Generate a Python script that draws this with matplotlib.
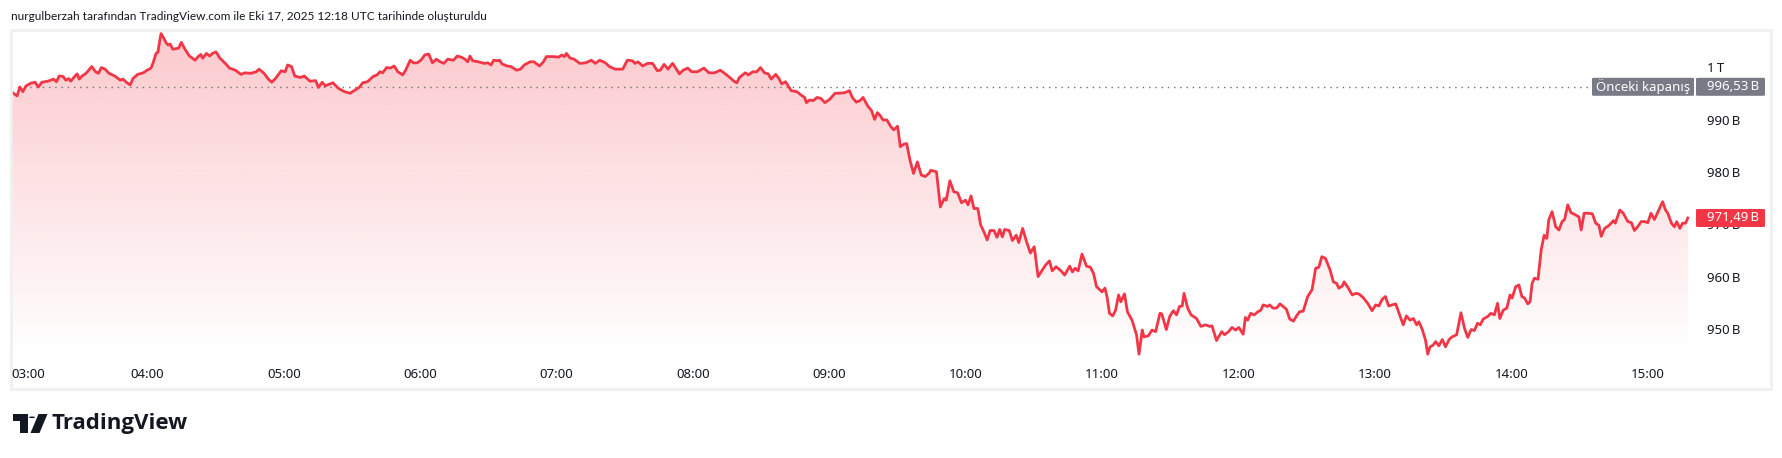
import matplotlib.pyplot as plt
import matplotlib.transforms as mtransforms
from matplotlib.patches import Rectangle, FancyBboxPatch, Polygon, Circle
import numpy as np

# Data: minutes after 03:00 and value (billion)
mins = [0, 2.7, 3.9, 5.2, 6.6, 8.6, 10.6, 12.0, 13.6, 16.2, 18.7, 20.0, 21.2, 22.9, 24.1, 25.4, 26.3, 28.0, 29.1, 30.0,
        31.3, 33.0, 35.5, 37.2, 38.5, 39.7, 41.4, 43.1, 45.6, 48.1, 49.3, 50.7, 52.4, 53.7, 55.7, 58.2, 59.9, 61.6, 62.5, 63.8,
        64.6, 65.5, 66.0, 67.2, 68.4, 69.2, 70.0, 71.2, 72.6, 73.7, 74.9, 76.8, 78.5, 81.0, 82.3, 83.5, 84.3, 86.0, 87.4, 88.6,
        90.2, 91.9, 94.5, 96.1, 98.7, 101.2, 102.9, 105.4, 107.9, 109.1, 111.3, 113.0, 114.7, 116.3, 118.9, 120.6, 121.7, 123.4, 124.8, 127.3,
        129.0, 131.5, 134.0, 135.2, 136.9, 138.2, 139.9, 141.6, 144.1, 146.7, 149.2, 151.7, 153.4, 154.7, 156.8, 159.3, 161.0, 162.3, 163.5, 165.2,
        166.9, 168.5, 170.2, 172.3, 173.6, 175.6, 177.0, 178.6, 180.3, 182.0, 183.7, 185.4, 187.1, 188.8, 190.4, 192.1, 194.6, 196.3, 198.0, 199.7,
        200.9, 201.9, 203.1, 205.6, 208.1, 209.8, 211.2, 212.3, 214.0, 214.9, 216.0, 218.2, 219.9, 222.4, 224.1, 225.8, 228.3, 230.0, 232.5, 234.2,
        235.5, 238.4, 240.9, 242.3, 243.5, 244.3, 246.0, 247.7, 250.2, 252.7, 255.3, 257.0,
        259.0, 261.5, 263.2, 265.7, 269.1, 271.1, 273.3, 274.5, 275.8, 277.9, 280.0, 282.2, 284.3, 285.6, 287.3, 289.0, 291.0, 292.7, 294.0, 295.7,
        297.7, 299.4, 301.9, 304.8, 307.0, 309.5, 312.0, 314.2, 316.2, 318.3, 319.3, 320.4, 323.0, 324.3, 326.3, 328.0, 329.7, 331.4, 333.1, 334.4,
        336.4, 337.8, 339.0, 340.7, 343.2, 345.7, 347.4, 349.1, 349.9, 351.3, 352.9, 354.6, 356.3, 358.0, 360.0, 362.5, 364.2, 366.7, 368.8, 370.1,
        371.8, 373.5, 374.8, 376.8, 378.5, 379.9, 381.1, 382.2, 383.6, 385.3, 386.9, 388.3, 390.0, 391.2, 392.8, 394.0, 395.4, 397.0, 398.7, 400.4,
        402.1, 403.8, 404.6, 407.1, 408.8, 410.5, 411.4, 413.0, 414.7, 416.4, 418.1, 419.8, 421.0, 422.3, 423.6, 425.3, 426.5, 428.2, 429.4, 430.7,
        432.4, 433.7, 434.9, 436.1, 437.1, 439.1, 440.5, 442.2, 443.3, 445.0, 446.7, 448.4, 450.1, 451.8, 453.4, 455.1, 456.8, 458.0, 459.7, 461.9,
        463.5, 465.7, 466.9, 468.1, 469.4, 471.1, 473.1, 474.8, 476.2, 477.5, 479.9, 481.2, 482.1, 483.2, 484.6, 485.9,
        487.2, 488.2, 489.8, 491.1, 493.1, 495.1, 496.2, 497.6, 498.4, 500.3, 501.9, 503.5, 505.4, 506.2, 508.2, 509.7, 511.3, 512.7, 514.0, 515.2,
        516.0, 517.6, 519.1, 521.5, 523.4, 525.4, 527.3, 528.3, 530.3, 531.2, 532.6, 533.8, 535.6, 537.1, 538.7, 540.1, 542.0, 543.0, 544.0, 545.3,
        546.9, 548.5, 549.8, 550.8, 552.8, 553.7, 555.1, 556.7, 558.2, 559.6, 561.0, 562.5, 564.1, 565.5, 566.8, 568.4, 570.4, 572.3, 573.9, 575.3,
        576.6, 578.2, 580.2, 581.7, 583.1, 584.1, 585.6, 586.4, 588.0, 590.0, 591.5, 592.9, 594.8, 596.8, 598.7, 600.3, 601.7, 603.2, 604.6, 606.0,
        607.5, 609.1, 610.5, 612.4, 613.8, 615.4, 616.9, 618.3, 619.3, 620.8, 622.2, 623.2, 624.2, 625.5, 626.7, 628.1, 629.6, 631.0, 632.6, 633.9,
        635.9, 637.8, 639.4, 640.8, 642.3, 643.7, 645.1, 646.3, 647.6, 649.6, 651.0, 652.5, 653.9, 654.9, 656.4, 658.0, 659.4, 660.3, 661.9, 663.3,
        664.6, 665.8, 667.2, 668.2, 669.1, 670.1, 671.7, 673.1, 674.4, 675.6, 676.4, 677.9, 679.5, 680.9, 682.3, 683.4, 684.8, 686.2, 687.7, 689.7,
        690.7, 692.0, 693.6, 695.6, 697.1, 698.5, 699.5, 701.0, 703.0, 704.9, 705.7, 707.7, 709.2, 711.2, 712.8, 714.1, 715.5, 717.1, 718.6, 720.0,
        721.4, 722.9, 724.5, 726.5, 727.8, 728.8, 730.4, 731.7, 732.7, 734.1, 735.3, 736.6, 737.6]
vals = [995.6, 994.8, 996.5, 995.6, 996.7, 997.2, 997.4, 996.5, 997.4, 997.6, 998.0, 997.5, 998.6, 998.5, 997.8, 998.1, 997.6, 998.5, 999.0, 998.0,
        998.6, 999.1, 1000.4, 999.4, 999.1, 1000.2, 999.9, 999.1, 998.6, 997.8, 998.0, 997.4, 996.9, 998.1, 998.9, 999.2, 999.7, 1000.1, 1001.1, 1002.9,
        1003.1, 1005.5, 1006.7, 1005.8, 1004.8, 1004.5, 1004.7, 1003.7, 1003.8, 1003.9, 1005.0, 1003.5, 1002.4, 1001.6, 1002.3, 1002.7, 1002.0, 1002.9, 1002.4, 1002.9,
        1003.2, 1002.0, 1000.9, 1000.1, 999.7, 998.9, 999.2, 999.1, 999.4, 999.9, 999.1, 998.1, 997.4, 998.1, 999.6, 999.4, 1000.7, 1000.4, 998.6, 998.3,
        998.6, 997.6, 997.7, 996.4, 997.4, 996.7, 997.0, 997.3, 996.2, 995.6, 995.3, 996.0, 996.5, 997.3, 997.5, 998.5, 998.8, 999.4, 999.2, 1000.2,
        1000.1, 1000.5, 999.4, 998.8, 999.7, 1001.6, 1001.1, 1001.1, 1001.6, 1002.6, 1002.8, 1001.1, 1001.8, 1001.3, 1001.0, 1001.8, 1001.6, 1002.4, 1002.2, 1001.8,
        1001.3, 1002.4, 1001.5, 1001.3, 1001.0, 1001.1, 1000.7, 1001.6, 1001.5, 1001.6, 1000.9, 1000.5, 1000.4, 999.7, 999.9, 1000.7, 1001.3, 1001.3, 1000.5, 1001.3,
        1002.3, 1002.3, 1002.2, 1002.6, 1002.3, 1002.9, 1002.0, 1001.8, 1001.0, 1001.1, 1001.6, 1001.0,
        1001.6, 1001.1, 1000.4, 999.9, 999.9, 1001.6, 1001.5, 1001.0, 1001.3, 1000.5, 1001.0, 1001.0, 999.6, 999.7, 1000.8, 999.9, 1001.0, 999.9, 999.0, 999.7,
        1000.1, 999.4, 999.4, 1000.1, 999.2, 999.2, 999.7, 999.0, 998.3, 997.5, 997.3, 998.3, 999.2, 998.8, 999.4, 999.4, 1000.2, 999.2, 999.0, 998.0,
        998.9, 998.1, 997.1, 997.5, 995.8, 995.6, 995.0, 994.5, 993.5, 994.0, 993.9, 994.5, 994.3, 993.5, 994.1, 995.3, 995.3, 995.4, 995.8, 994.5,
        993.6, 993.9, 994.5, 992.9, 992.0, 990.3, 991.6, 991.1, 990.2, 990.2, 989.0, 988.3, 989.0, 985.1, 985.6, 985.7, 982.6, 980.0, 982.2, 979.7,
        979.4, 980.0, 980.6, 980.3, 973.6, 975.2, 974.9, 978.6, 976.5, 976.3, 974.4, 974.9, 974.0, 975.7, 973.3, 973.3, 970.2, 968.6, 967.3, 969.1,
        969.1, 967.8, 969.3, 967.9, 969.3, 969.1, 967.2, 968.2, 966.8, 969.5, 967.0, 964.8, 966.0, 960.3, 961.4, 962.5, 963.3, 961.4, 962.2, 961.4,
        960.6, 962.3, 961.2, 961.9, 961.4, 964.6, 962.3, 962.1, 960.9, 958.4, 957.4, 958.1, 956.5, 953.3, 952.8, 953.9,
        956.8, 955.5, 957.0, 953.6, 952.0, 949.2, 945.5, 950.1, 948.8, 949.0, 950.1, 949.8, 953.3, 953.2, 950.2, 952.7, 953.8, 953.0, 954.6, 954.7,
        957.1, 954.3, 953.0, 952.3, 950.8, 951.1, 950.8, 950.9, 948.1, 948.8, 949.8, 949.2, 949.8, 950.6, 950.1, 950.6, 949.3, 952.5, 952.0, 953.3,
        953.0, 953.6, 953.9, 954.9, 954.6, 954.9, 954.3, 954.3, 955.1, 954.6, 954.1, 952.2, 951.8, 952.8, 953.6, 953.7, 956.5, 957.8, 961.9, 962.1,
        964.1, 963.8, 961.6, 959.3, 959.0, 958.1, 958.5, 959.3, 958.3, 956.8, 957.1, 957.0, 956.3, 955.2, 953.8, 954.9, 954.7, 956.0, 956.5, 954.7,
        954.9, 955.1, 953.4, 951.1, 952.8, 952.0, 952.3, 951.1, 951.7, 950.2, 948.2, 945.5, 946.9, 947.2, 947.9, 947.1, 948.3, 946.9, 948.3, 948.8,
        949.2, 953.4, 950.4, 948.7, 950.2, 950.0, 951.4, 951.1, 952.2, 952.7, 953.3, 953.0, 955.2, 952.3, 953.9, 954.3, 956.8, 956.2, 958.4, 958.7,
        956.5, 956.2, 955.1, 955.5, 959.0, 960.0, 959.8, 965.4, 968.2, 967.6, 971.1, 972.7, 969.8, 969.2, 970.8, 971.2, 974.0, 972.5, 972.2, 971.7,
        969.2, 972.4, 972.4, 972.3, 970.5, 970.1, 968.0, 969.5, 970.1, 971.0, 970.5, 973.0, 972.4, 970.8, 970.6, 969.1, 969.8, 970.8, 970.8, 970.6,
        972.4, 971.2, 972.7, 974.6, 973.0, 972.4, 970.5, 969.8, 970.8, 969.5, 970.5, 970.5, 971.49]

prev_close = 996.53
last_val = 971.49
price_ticks = [1000, 990, 980, 970, 960, 950]
price_labels = ['1\u2009T', '990\u2009B', '980\u2009B', '970\u2009B', '960\u2009B', '950\u2009B']
time_ticks = [0, 60, 120, 180, 240, 300, 360, 420, 480, 540, 600, 660, 720]
time_labels = ['03:00', '04:00', '05:00', '06:00', '07:00', '08:00', '09:00', '10:00',
               '11:00', '12:00', '13:00', '14:00', '15:00']
title = 'nurgulberzah tarafından TradingView.com ile Eki 17, 2025 12:18 UTC tarihinde oluşturuldu'

plt.rcParams['font.family'] = ['Noto Sans', 'DejaVu Sans']
RED = '#F23645'
TXT = '#131722'

W, H = 1782, 458
fig = plt.figure(figsize=(W / 100, H / 100), dpi=100)

def fx(px):
    return px / W

def fy(py):
    return 1 - py / H

# pane border
fig.patches.append(Rectangle((fx(10.5), fy(389)), fx(1771 - 10.5), (389 - 30) / H, fill=False,
                             ec='#f0f0f0', lw=2, transform=fig.transFigure, zorder=0))

xlo, xhi = 0, 741.2
ylo, yhi = 945.15, 1007.18
ax = fig.add_axes([fx(11), fy(356), fx(1696 - 11), (356 - 31) / H])
ax.set_xlim(xlo, xhi)
ax.set_ylim(ylo, yhi)
ax.axis('off')

# gradient area under the line
fill = ax.fill_between(mins, vals, ylo, facecolor='none', edgecolor='none')
grad = np.zeros((256, 1, 4))
grad[..., 0], grad[..., 1], grad[..., 2] = 242 / 255, 54 / 255, 69 / 255
grad[..., 3] = np.linspace(0.27, 0.0, 256).reshape(-1, 1)
im = ax.imshow(grad, extent=[xlo, xhi, ylo, yhi], aspect='auto', origin='upper', zorder=1)
im.set_clip_path(fill.get_paths()[0], transform=ax.transData)

ax.axhline(prev_close, color='#6f6f6f', lw=1, ls=(0, (1, 3.5)), zorder=2)
ax.plot(mins, vals, color=RED, lw=2, solid_joinstyle='round', zorder=3)

# price scale
ytr = mtransforms.blended_transform_factory(fig.transFigure, ax.transData)
for v, lab in zip(price_ticks, price_labels):
    fig.text(fx(1707), v, lab, transform=ytr, ha='left', va='center', fontsize=9.5, color=TXT)

def ypix(v):
    return ax.transData.transform((0, v))[1]

def box(x0, x1, v, color, text, tx, ha='left'):
    yc = ypix(v)
    p = FancyBboxPatch((fx(x0), (yc - 9) / H), fx(x1 - x0), 18 / H,
                       boxstyle='round,pad=0,rounding_size=0.0015', fc=color, ec='none',
                       transform=fig.transFigure, zorder=5)
    fig.patches.append(p)
    fig.text(fx(tx), yc / H, text, ha=ha, va='center', fontsize=9.5, color='white', zorder=6)

box(1592, 1694, prev_close, '#787B86', 'Önceki kapanış', 1596)
box(1696, 1765, prev_close, '#787B86', '996,53\u2009B', 1707)
box(1696, 1765, last_val, RED, '971,49\u2009B', 1707)

# time scale
xtr = mtransforms.blended_transform_factory(ax.transData, fig.transFigure)
for t, lab in zip(time_ticks, time_labels):
    if t == 0:
        fig.text(fx(11.5), fy(374), lab, ha='left', va='center', fontsize=9.5, color=TXT)
    else:
        fig.text(t, fy(374), lab, transform=xtr, ha='center', va='center', fontsize=9.5, color=TXT)

fig.text(fx(11), fy(16), title, ha='left', va='center', fontsize=8.6, color=TXT,
         family=['Lato', 'DejaVu Sans'])

# TradingView logo
k = '#131722'
fig.patches.append(Polygon([(fx(13), fy(414)), (fx(27.5), fy(414)), (fx(27.5), fy(433)),
                            (fx(19.8), fy(433)), (fx(19.8), fy(420.5)), (fx(13), fy(420.5))],
                           closed=True, fc=k, ec='none', transform=fig.transFigure))
fig.patches.append(Circle((fx(32), fy(417.3)), 3.1 / W, fc=k, ec='none', transform=fig.transFigure))
fig.patches.append(Polygon([(fx(38.5), fy(414)), (fx(47.5), fy(414)), (fx(39.5), fy(433)), (fx(30.5), fy(433))],
                           closed=True, fc=k, ec='none', transform=fig.transFigure))
fig.text(fx(51), fy(424), 'TradingView', ha='left', va='center', fontsize=16,
         fontweight='bold', color=k, family=['Open Sans', 'DejaVu Sans'])

fig.savefig('out.png', dpi=100, facecolor='white')
